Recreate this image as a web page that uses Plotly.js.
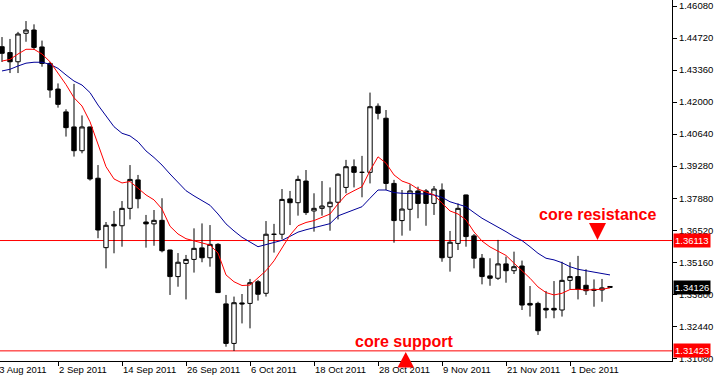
<!DOCTYPE html>
<html><head><meta charset="utf-8">
<script src="https://cdn.plot.ly/plotly-3.0.1.min.js"></script>
<style>html,body{margin:0;padding:0;background:#fff}#chart{width:714px;height:379px}</style>
</head><body><div id="chart"></div>
<script>
// EUR/USD daily sessions
const dates = ['24 Aug 2011','25 Aug 2011','26 Aug 2011','29 Aug 2011','30 Aug 2011','31 Aug 2011','1 Sep 2011','2 Sep 2011','5 Sep 2011','6 Sep 2011',
'7 Sep 2011','8 Sep 2011','9 Sep 2011','12 Sep 2011','13 Sep 2011','14 Sep 2011','15 Sep 2011','16 Sep 2011','19 Sep 2011','20 Sep 2011',
'21 Sep 2011','22 Sep 2011','23 Sep 2011','26 Sep 2011','27 Sep 2011','28 Sep 2011','29 Sep 2011','30 Sep 2011','3 Oct 2011','4 Oct 2011',
'5 Oct 2011','6 Oct 2011','7 Oct 2011','10 Oct 2011','11 Oct 2011','12 Oct 2011','13 Oct 2011','14 Oct 2011','17 Oct 2011','18 Oct 2011',
'19 Oct 2011','20 Oct 2011','21 Oct 2011','24 Oct 2011','25 Oct 2011','26 Oct 2011','27 Oct 2011','28 Oct 2011','31 Oct 2011','1 Nov 2011',
'2 Nov 2011','3 Nov 2011','4 Nov 2011','7 Nov 2011','8 Nov 2011','9 Nov 2011','10 Nov 2011','11 Nov 2011','14 Nov 2011','15 Nov 2011',
'16 Nov 2011','17 Nov 2011','18 Nov 2011','21 Nov 2011','22 Nov 2011','23 Nov 2011','24 Nov 2011','25 Nov 2011','28 Nov 2011','29 Nov 2011',
'30 Nov 2011','1 Dec 2011','2 Dec 2011','5 Dec 2011','6 Dec 2011','7 Dec 2011','8 Dec 2011'];

const openP = [1.4435,1.4410,1.4371,1.4492,1.4506,1.4434,1.4364,1.4255,1.4158,1.4094,
1.3993,1.4094,1.3876,1.3581,1.3680,1.3674,1.3748,1.3869,1.3690,1.3682,
1.3697,1.3571,1.3458,1.3514,1.3531,1.3580,1.3538,1.3595,1.3342,1.3174,
1.3346,1.3344,1.3436,1.3387,1.3637,1.3638,1.3788,1.3772,1.3864,1.3737,
1.3748,1.3755,1.3774,1.3837,1.3925,1.3901,1.3901,1.4182,1.4131,1.3854,
1.3696,1.3744,1.3822,1.3822,1.3769,1.3826,1.3540,1.3599,1.3805,1.3631,
1.3536,1.3461,1.3451,1.3512,1.3483,1.3503,1.3344,1.3344,1.3323,1.3323,
1.3316,1.3442,1.3458,1.3421,1.3404,1.3401,1.3416];

const highP = [1.4476,1.4468,1.4498,1.4544,1.4530,1.4461,1.4371,1.4279,1.4169,1.4277,
1.4143,1.4095,1.3932,1.3690,1.3737,1.3779,1.3932,1.3890,1.3720,1.3741,
1.3791,1.3572,1.3558,1.3550,1.3663,1.3684,1.3677,1.3600,1.3380,1.3373,
1.3384,1.3448,1.3444,1.3694,1.3682,1.3830,1.3822,1.3887,1.3911,1.3812,
1.3864,1.3837,1.3897,1.3954,1.3956,1.3971,1.4240,1.4194,1.4166,1.3869,
1.3826,1.3850,1.3840,1.3830,1.3843,1.3854,1.3652,1.3769,1.3806,1.3639,
1.3554,1.3536,1.3614,1.3543,1.3564,1.3526,1.3418,1.3351,1.3397,1.3439,
1.3521,1.3519,1.3546,1.3489,1.3446,1.3448,1.3417];

const lowP = [1.4370,1.4323,1.4323,1.4456,1.4421,1.4350,1.4218,1.4176,1.4053,1.3968,
1.3982,1.3866,1.3621,1.3493,1.3557,1.3585,1.3701,1.3748,1.3581,1.3589,
1.3561,1.3380,1.3415,1.3361,1.3475,1.3519,1.3500,1.3388,1.3160,1.3142,
1.3259,1.3238,1.3356,1.3373,1.3560,1.3616,1.3677,1.3717,1.3720,1.3649,
1.3717,1.3653,1.3701,1.3812,1.3837,1.3795,1.3854,1.4126,1.3826,1.3602,
1.3632,1.3653,1.3706,1.3674,1.3720,1.3521,1.3479,1.3571,1.3585,1.3493,
1.3425,1.3419,1.3444,1.3432,1.3469,1.3316,1.3288,1.3210,1.3281,1.3281,
1.3288,1.3404,1.3361,1.3380,1.3330,1.3351,1.3412];

const closeP = [1.4407,1.4371,1.4489,1.4506,1.4432,1.4364,1.4251,1.4190,1.4091,1.3993,
1.4094,1.3873,1.3656,1.3676,1.3673,1.3748,1.3871,1.3789,1.3682,1.3697,
1.3568,1.3458,1.3519,1.3531,1.3578,1.3538,1.3595,1.3390,1.3174,1.3347,
1.3342,1.3432,1.3383,1.3638,1.3638,1.3786,1.3772,1.3871,1.3730,1.3748,
1.3758,1.3774,1.3893,1.3925,1.3901,1.3901,1.4180,1.4152,1.3854,1.3696,
1.3745,1.3822,1.3769,1.3769,1.3830,1.3538,1.3604,1.3748,1.3628,1.3536,
1.3458,1.3451,1.3512,1.3483,1.3500,1.3337,1.3337,1.3228,1.3316,1.3316,
1.3442,1.3458,1.3404,1.3398,1.3400,1.3410,1.34126];

// moving averages
const maFast = [1.4374,1.4381,1.4404,1.4424,1.4424,1.4404,1.4371,1.4325,1.4274,1.4218,
1.4183,1.4116,1.4017,1.3925,1.3873,1.3856,1.3862,1.3835,1.3805,1.3784,
1.3745,1.3672,1.3639,1.3619,1.3611,1.3600,1.3592,1.3558,1.3465,1.3436,
1.3420,1.3422,1.3451,1.3483,1.3525,1.3578,1.3634,1.3674,1.3688,1.3696,
1.3709,1.3724,1.3767,1.3805,1.3823,1.3840,1.3908,1.3967,1.3940,1.3890,
1.3864,1.3852,1.3830,1.3819,1.3805,1.3770,1.3737,1.3724,1.3699,1.3648,
1.3609,1.3584,1.3567,1.3548,1.3515,1.3483,1.3451,1.3414,1.3390,1.3380,
1.3387,1.3403,1.3404,1.3401,1.3401,1.3404,1.3410];

const maSlow = [1.4332,1.4339,1.4353,1.4365,1.4369,1.4369,1.4360,1.4343,1.4315,1.4289,
1.4272,1.4240,1.4187,1.4141,1.4095,1.4067,1.4056,1.4031,1.3992,1.3964,
1.3932,1.3894,1.3858,1.3823,1.3801,1.3781,1.3761,1.3724,1.3682,1.3652,
1.3625,1.3605,1.3585,1.3594,1.3603,1.3612,1.3629,1.3647,1.3657,1.3665,
1.3672,1.3683,1.3716,1.3730,1.3741,1.3755,1.3791,1.3826,1.3826,1.3815,
1.3812,1.3812,1.3812,1.3809,1.3805,1.3795,1.3776,1.3765,1.3755,1.3730,
1.3706,1.3687,1.3669,1.3649,1.3628,1.3611,1.3585,1.3557,1.3536,1.3529,
1.3517,1.3500,1.3489,1.3483,1.3479,1.3472,1.3465];

const tickLabels = ['23 Aug 2011','2 Sep 2011','14 Sep 2011','26 Sep 2011','6 Oct 2011','18 Oct 2011','28 Oct 2011','9 Nov 2011','21 Nov 2011','1 Dec 2011'];
const priceTicks = [1.46080,1.44720,1.43360,1.42000,1.40640,1.39280,1.37880,1.36520,1.35160,1.33800,1.32440,1.31080];
const resistance = 1.36113;
const support = 1.31423;
const lastPrice = 1.34126;

const idx = dates.map((d, i) => i);
// '23 Aug 2011' is the session just before the first bar -> position -1
const tickIdx = tickLabels.map(l => { const i = dates.indexOf(l); return i >= 0 ? i : -1; });

const FONT = 'Liberation Sans, Arial, sans-serif';
const xRange = [-0.25, 83.75];

const traces = [
  {type:'candlestick', x:idx, open:openP, high:highP, low:lowP, close:closeP,
   increasing:{line:{color:'#000', width:1}, fillcolor:'#ffffff'},
   decreasing:{line:{color:'#000', width:1}, fillcolor:'#000000'},
   whiskerwidth:0, hoverinfo:'skip'},
  {type:'scatter', mode:'lines', x:idx, y:maSlow, line:{color:'#000099', width:1}, hoverinfo:'skip'},
  {type:'scatter', mode:'lines', x:idx, y:maFast, line:{color:'#ff0000', width:1}, hoverinfo:'skip'}
];

// tick labels whose tick falls just left of the visible range (clipped by the page edge, as in the reference)
const edgeLabels = tickLabels.map((l, i) => ({l, p: tickIdx[i]})).filter(o => o.p < xRange[0]).map(o => ({
  xref:'paper', x:(o.p - xRange[0]) / (xRange[1] - xRange[0]), xanchor:'left', xshift:-2,
  yref:'paper', y:-0.0249, yanchor:'middle', showarrow:false,
  text:o.l, font:{family:FONT, size:9.5, color:'#000'}
}));

const layout = {
  width:714, height:379,
  margin:{l:0, r:42, t:0, b:18, pad:0},
  paper_bgcolor:'#ffffff', plot_bgcolor:'#ffffff',
  showlegend:false,
  boxgap:0.45, boxgroupgap:0,
  xaxis:{type:'linear', range:xRange, tickvals:tickIdx, ticktext:tickLabels,
    ticks:'outside', ticklen:4, tickcolor:'#000', tickwidth:1,
    showline:true, linecolor:'#000', linewidth:1, showgrid:false, zeroline:false,
    ticklabelposition:'outside right',
    tickfont:{family:FONT, size:9.5, color:'#000'},
    rangeslider:{visible:false}, fixedrange:true},
  yaxis:{side:'right', range:[1.309925, 1.46335], tickvals:priceTicks, tickformat:'.5f',
    ticks:'outside', ticklen:4, tickcolor:'#000', tickwidth:1,
    showline:true, linecolor:'#000', linewidth:1, showgrid:false, zeroline:false,
    tickfont:{family:FONT, size:9.5, color:'#000'}, fixedrange:true},
  shapes:[
    {type:'line', xref:'paper', x0:0, x1:1, yref:'y', y0:resistance, y1:resistance, line:{color:'#ff0000', width:1}, layer:'below'},
    {type:'line', xref:'paper', x0:0, x1:1, yref:'y', y0:support, y1:support, line:{color:'#ff0000', width:1}, layer:'below'},
    {type:'path', xref:'paper', yref:'paper', path:'M 0.87649 0.38227 L 0.90179 0.38227 L 0.88914 0.33518 Z', fillcolor:'#ff0000', line:{width:0}},
    {type:'path', xref:'paper', yref:'paper', path:'M 0.59152 -0.01801 L 0.61607 -0.01801 L 0.60379 0.02493 Z', fillcolor:'#ff0000', line:{width:0}}
  ],
  annotations:[
    {xref:'paper', yref:'paper', x:0.88914, y:0.40720, xanchor:'center', yanchor:'middle', showarrow:false,
     text:'core resistance', font:{family:FONT, size:16, color:'#ff0000', weight:'bold'}},
    {xref:'paper', yref:'paper', x:0.60045, y:0.0554, xanchor:'center', yanchor:'middle', showarrow:false,
     text:'core support', font:{family:FONT, size:16, color:'#ff0000', weight:'bold'}},
    {xref:'paper', x:1, xanchor:'left', xshift:1, yref:'y', y:resistance, yanchor:'middle', showarrow:false,
     text:resistance.toFixed(5), bgcolor:'#ff0000', borderpad:1, font:{family:FONT, size:9.5, color:'#ffffff'}},
    {xref:'paper', x:1, xanchor:'left', xshift:1, yref:'y', y:support, yanchor:'middle', showarrow:false,
     text:support.toFixed(5), bgcolor:'#ff0000', borderpad:1, font:{family:FONT, size:9.5, color:'#ffffff'}},
    {xref:'paper', x:1, xanchor:'left', xshift:1, yref:'y', y:lastPrice, yanchor:'middle', showarrow:false,
     text:lastPrice.toFixed(5), bgcolor:'#000000', borderpad:1, font:{family:FONT, size:9.5, color:'#ffffff'}}
  ].concat(edgeLabels)
};

Plotly.newPlot('chart', traces, layout, {staticPlot:true, displayModeBar:false});
</script>
</body></html>
